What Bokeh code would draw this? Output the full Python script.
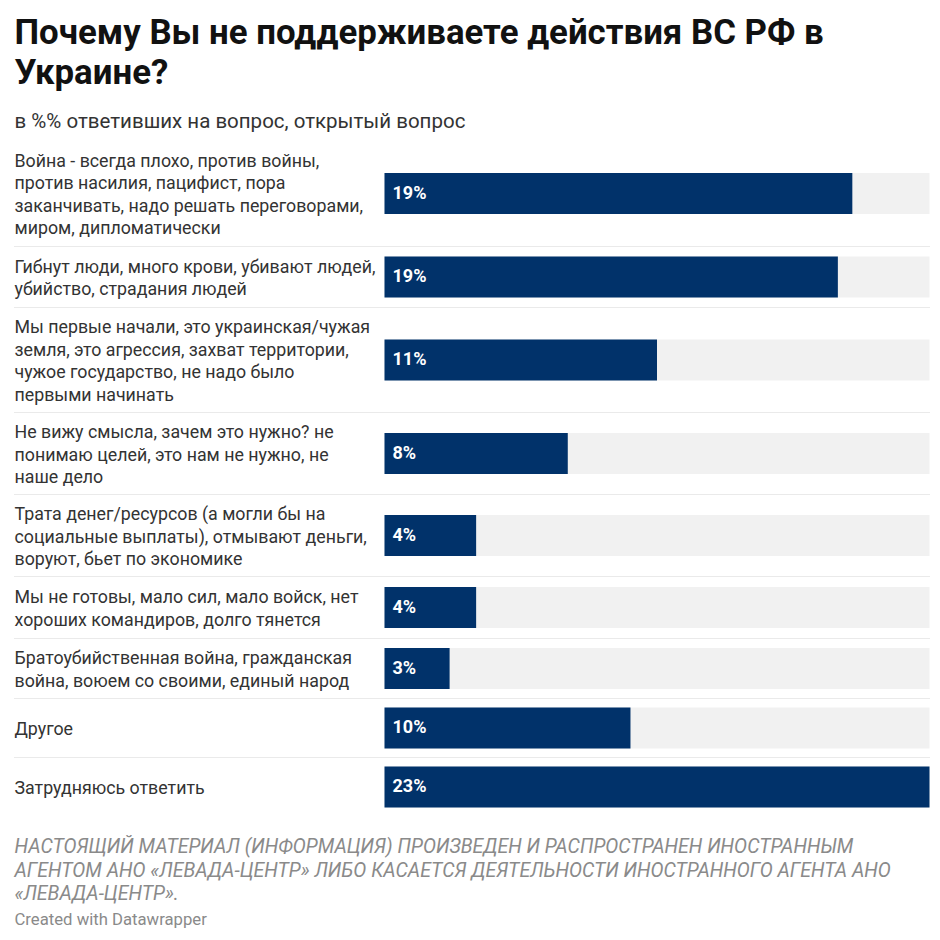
from bokeh.plotting import figure
from bokeh.models import Range1d, ColumnDataSource
from bokeh.core.properties import value
from bokeh.embed import file_html
from bokeh.resources import INLINE

# ---------------- data ----------------
categories = [
    "Война - всегда плохо, против войны,\nпротив насилия, пацифист, пора\nзаканчивать, надо решать переговорами,\nмиром, дипломатически",
    "Гибнут люди, много крови, убивают людей,\nубийство, страдания людей",
    "Мы первые начали, это украинская/чужая\nземля, это агрессия, захват территории,\nчужое государство, не надо было\nпервыми начинать",
    "Не вижу смысла, зачем это нужно? не\nпонимаю целей, это нам не нужно, не\nнаше дело",
    "Трата денег/ресурсов (а могли бы на\nсоциальные выплаты), отмывают деньги,\nворуют, бьет по экономике",
    "Мы не готовы, мало сил, мало войск, нет\nхороших командиров, долго тянется",
    "Братоубийственная война, гражданская\nвойна, воюем со своими, единый народ",
    "Другое",
    "Затрудняюсь ответить",
]
values = [19.4, 18.8, 11.3, 7.6, 3.8, 3.8, 2.7, 10.2, 22.6]
value_labels = ["19%", "19%", "11%", "8%", "4%", "4%", "3%", "10%", "23%"]

title_lines = ["Почему Вы не поддерживаете действия ВС РФ в", "Украине?"]
subtitle = "в %% ответивших на вопрос, открытый вопрос"
notes_lines = [
    "НАСТОЯЩИЙ МАТЕРИАЛ (ИНФОРМАЦИЯ) ПРОИЗВЕДЕН И РАСПРОСТРАНЕН ИНОСТРАННЫМ",
    "АГЕНТОМ АНО «ЛЕВАДА-ЦЕНТР» ЛИБО КАСАЕТСЯ ДЕЯТЕЛЬНОСТИ ИНОСТРАННОГО АГЕНТА АНО",
    "«ЛЕВАДА-ЦЕНТР».",
]
credit = "Created with Datawrapper"

# ---------------- layout (pixels) ----------------
W, H = 932, 932
LEFT_TEXT = 14         # left edge of texts
BAR_X0 = 384           # pixel of 0 %
BAR_X1 = 929           # pixel of max value
SEP_X1 = 930
row_heights = [106, 61, 105, 82, 82, 62, 60, 59, 59]
rows_top = 140
bar_h = 41
line_h = 22.6

vmax = max(values)
ppu = (BAR_X1 - BAR_X0) / vmax
x_start = -BAR_X0 / ppu
x_end = (W - BAR_X0) / ppu

p = figure(width=W, height=H, output_backend="svg", toolbar_location=None,
           x_range=Range1d(x_start, x_end), y_range=Range1d(H, 0),
           x_axis_location=None, y_axis_location=None, min_border=0,
           tools="")
p.outline_line_color = None
p.grid.visible = False
p.background_fill_color = "white"
p.border_fill_color = "white"

FONT = value("Roboto")

# row centres
centers = []
seps = []
t = rows_top
for h in row_heights:
    centers.append(t + h / 2)
    t += h
    seps.append(t)
seps = seps[:-1]

# separators (dotted)
x_left = x_start + LEFT_TEXT / ppu
x_right = x_start + SEP_X1 / ppu
p.segment(x0=[x_left] * len(seps), x1=[x_right] * len(seps), y0=seps, y1=seps,
          line_color="#d4d4d4", line_width=1, line_dash="1 1")

# background bars
p.hbar(y=centers, left=0, right=[vmax] * len(values), height=bar_h,
       fill_color="#f1f1f1", line_color=None)
# value bars
src = ColumnDataSource(dict(y=centers, v=values, lab=value_labels,
                            yb=[c - 1.5 for c in centers]))
p.hbar(y="y", left=0, right="v", height=bar_h, source=src,
       fill_color="#01326a", line_color=None)
p.text(x=0, y="yb", text="lab", source=src, x_offset=8,
       text_color="white", text_font=FONT, text_font_size="18px",
       text_font_style="bold", text_baseline="alphabetic", text_align="left")

# category labels, one glyph entry per line
lx, ly, lt = [], [], []
for c, cat in zip(centers, categories):
    parts = cat.split("\n")
    n = len(parts)
    for i, s in enumerate(parts):
        lx.append(x_start)
        ly.append(c + (i - (n - 1) / 2) * line_h + 0.5)
        lt.append(s)
p.text(x=lx, y=ly, text=lt, x_offset=LEFT_TEXT, text_color="#333333",
       text_font=FONT, text_font_size="17.8px", text_baseline="alphabetic",
       text_align="left")

# title
p.text(x=[x_start, x_start], y=[31, 71], text=title_lines, x_offset=LEFT_TEXT,
       text_color="#111111", text_font=FONT, text_font_size="34.8px",
       text_font_style="bold", text_baseline="alphabetic", text_align="left")
# subtitle
p.text(x=[x_start], y=[120.5], text=[subtitle], x_offset=LEFT_TEXT,
       text_color="#333333", text_font=FONT, text_font_size="20.5px",
       text_baseline="alphabetic", text_align="left")
# notes
p.text(x=[x_start] * 3, y=[846, 869.5, 893], text=notes_lines, x_offset=LEFT_TEXT,
       text_color="#8a8a8a", text_font=FONT, text_font_size="19.5px",
       text_font_style="italic", text_baseline="alphabetic", text_align="left")
p.text(x=[x_start], y=[918.5], text=[credit], x_offset=LEFT_TEXT,
       text_color="#8a8a8a", text_font=FONT, text_font_size="16.7px",
       text_baseline="alphabetic", text_align="left")

open("out.html", "w").write(file_html(p, INLINE))
